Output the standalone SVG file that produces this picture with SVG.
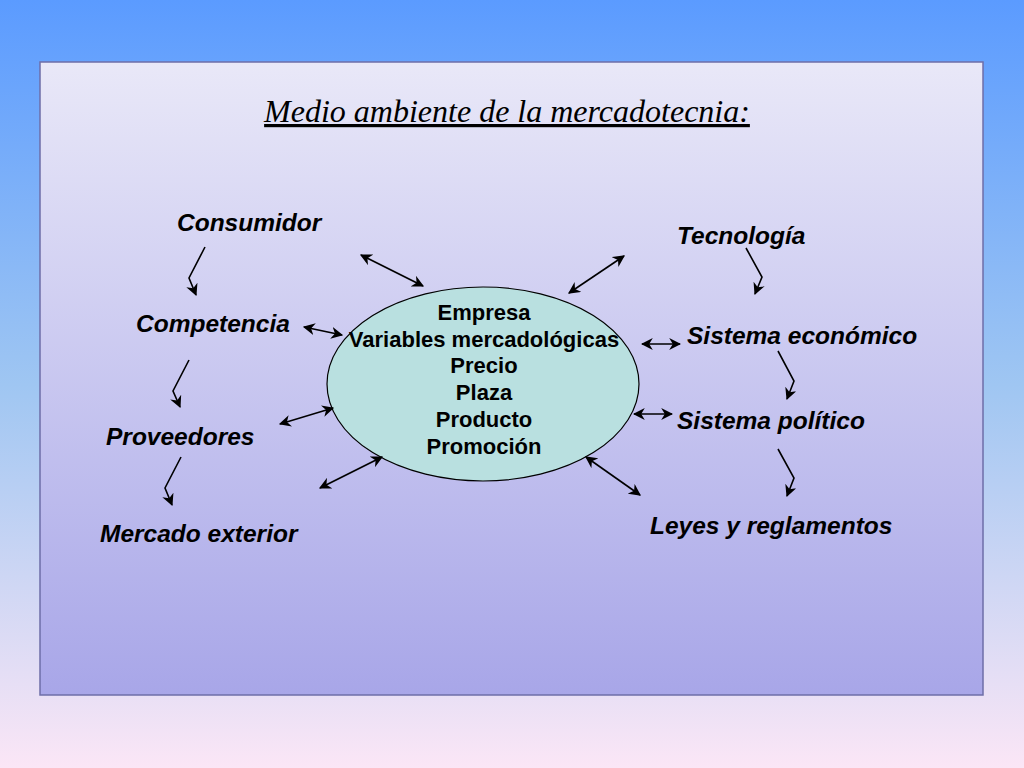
<svg xmlns="http://www.w3.org/2000/svg" width="1024" height="768" viewBox="0 0 1024 768">
<defs>
<linearGradient id="bg" x1="0" y1="0" x2="0" y2="1"><stop offset="0" stop-color="#5b9bff"/><stop offset="0.5" stop-color="#9fc6f2"/><stop offset="1" stop-color="#fbe6f6"/></linearGradient>
<linearGradient id="panel" x1="0" y1="0" x2="0" y2="1"><stop offset="0" stop-color="#e9e8f8"/><stop offset="1" stop-color="#a8a6e8"/></linearGradient>
<marker id="ah" viewBox="0 0 10 10" refX="9" refY="5" markerWidth="12" markerHeight="12" markerUnits="userSpaceOnUse" orient="auto-start-reverse"><path d="M0,0 L10,5 L0,10 L3,5 Z" fill="#000"/></marker>
<style>
.lbl{font-family:"Liberation Sans",Arial,sans-serif;font-size:24.5px;font-weight:bold;font-style:italic;fill:#000}
.ctr{font-family:"Liberation Sans",Arial,sans-serif;font-size:22px;font-weight:bold;fill:#000;text-anchor:middle}
.c line,.c polyline{stroke:#000;stroke-width:1.6;fill:none}
</style>
</defs>
<rect width="1024" height="768" fill="url(#bg)"/>
<rect x="40" y="62" width="943" height="633" fill="url(#panel)" stroke="#6e6ea8" stroke-width="1.5"/>
<text x="507" y="122" text-anchor="middle" font-family="Liberation Serif,serif" font-size="32" font-style="italic" text-decoration="underline">Medio ambiente de la mercadotecnia:</text>
<g id="empresa"><ellipse cx="483" cy="384" rx="156" ry="97" fill="#b9e0e0" stroke="#000" stroke-width="1.2"/>
<text class="ctr" x="484" y="320">Empresa</text><text class="ctr" x="484" y="347">Variables mercadológicas</text><text class="ctr" x="484" y="373">Precio</text><text class="ctr" x="484" y="400">Plaza</text><text class="ctr" x="484" y="427">Producto</text><text class="ctr" x="484" y="454">Promoción</text></g>
<g id="consumidor"><text class="lbl" x="177" y="231">Consumidor</text></g>
<g id="competencia"><text class="lbl" x="136" y="332">Competencia</text></g>
<g id="proveedores"><text class="lbl" x="106" y="445">Proveedores</text></g>
<g id="mercado"><text class="lbl" x="100" y="542">Mercado exterior</text></g>
<g id="tecnologia"><text class="lbl" x="677" y="244">Tecnología</text></g>
<g id="economico"><text class="lbl" x="687" y="344">Sistema económico</text></g>
<g id="politico"><text class="lbl" x="677" y="429">Sistema político</text></g>
<g id="leyes"><text class="lbl" x="650" y="534">Leyes y reglamentos</text></g>
<g class="c" id="connectors">
<line x1="361" y1="255" x2="423" y2="286" marker-start="url(#ah)" marker-end="url(#ah)"/>
<line x1="304" y1="327" x2="342" y2="335" marker-start="url(#ah)" marker-end="url(#ah)"/>
<line x1="280" y1="424" x2="333" y2="408" marker-start="url(#ah)" marker-end="url(#ah)"/>
<line x1="320" y1="488" x2="382" y2="457" marker-start="url(#ah)" marker-end="url(#ah)"/>
<line x1="569" y1="293" x2="624" y2="256" marker-start="url(#ah)" marker-end="url(#ah)"/>
<line x1="642" y1="344" x2="680" y2="344" marker-start="url(#ah)" marker-end="url(#ah)"/>
<line x1="634" y1="414" x2="672" y2="414" marker-start="url(#ah)" marker-end="url(#ah)"/>
<line x1="586" y1="457" x2="640" y2="495" marker-start="url(#ah)" marker-end="url(#ah)"/>
<polyline points="205,247 189,278 196,295" marker-end="url(#ah)"/>
<polyline points="189,360 173,391 180,407" marker-end="url(#ah)"/>
<polyline points="181,457 165,488 172,505" marker-end="url(#ah)"/>
<polyline points="746,248 762,277 755,294" marker-end="url(#ah)"/>
<polyline points="778,351 794,381 787,399" marker-end="url(#ah)"/>
<polyline points="778,449 794,478 787,496" marker-end="url(#ah)"/>
</g>
</svg>
